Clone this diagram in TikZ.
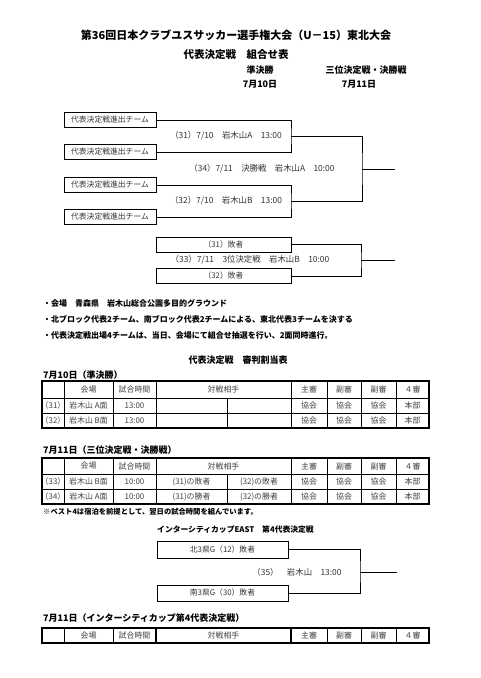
\documentclass[tikz,border=0pt]{standalone}
\usepackage{fontspec}
\setmainfont{Noto Sans CJK JP}
\usepackage{tikz}

\begin{document}
\begin{tikzpicture}[x=1pt,y=-1pt]
  \tikzset{
    team/.style={draw,line width=.8pt,minimum width=92pt,minimum height=15pt,
      inner sep=0pt,font=\fontsize{7.8}{8}\selectfont,text=black!80},
    loser/.style={team,minimum width=135pt},
    wire/.style={line width=.8pt},
    match/.style={font=\fontsize{8.4}{9}\selectfont,text=black!80},
    head/.style={font=\fontsize{9}{10}\selectfont\bfseries},
    note/.style={anchor=west,inner sep=0pt,font=\fontsize{8}{9}\selectfont\bfseries},
    cell/.style={inner sep=0pt,font=\fontsize{7.9}{8}\selectfont,text=black!75},
    tblframe/.style={line width=1.2pt},
    tblrule/.style={line width=.6pt}
  }
  \useasboundingbox (0,0) rectangle (480,678);
  \node[font=\fontsize{11}{12}\selectfont\bfseries] (title) at (236,35)
    {第36回日本クラブユスサッカー選手権大会（U－15）東北大会};
  \node[font=\fontsize{10.5}{11}\selectfont\bfseries] (subtitle) at (236,55) {代表決定戦　組合せ表};
  \node[head] (day1) at (260,70) {準決勝};
  \node[head] (date1) at (260,84) {7月10日};
  \node[head] (day2) at (366,70) {三位決定戦・決勝戦};
  \node[head] (date2) at (359,84) {7月11日};

  \node[team] (t1) at (110,120) {代表決定戦進出チーム};
  \node[team] (t2) at (110,152) {代表決定戦進出チーム};
  \node[team] (t3) at (110,185) {代表決定戦進出チーム};
  \node[team] (t4) at (110,217) {代表決定戦進出チーム};
  \coordinate (w31) at (291,136);
  \coordinate (w32) at (291,201);
  \coordinate (f34) at (362,169);
  \coordinate (e34) at (395,169);
  \draw[wire] (t1.east) -| (w31) |- (t2.east);
  \draw[wire] (t3.east) -| (w32) |- (t4.east);
  \draw[wire] (w31) -| (f34) |- (w32);
  \draw[wire] (f34) -- (e34);
  \node[match] (m31) at (226,136) {（31）7/10　岩木山A　13:00};
  \node[match] (m32) at (226,201) {（32）7/10　岩木山B　13:00};
  \node[match] (m34) at (262,169) {（34）7/11　決勝戦　岩木山A　10:00};

  \node[loser] (l31) at (223.5,244.5) {（31）敗者};
  \node[loser] (l32) at (223.5,276) {（32）敗者};
  \coordinate (f33) at (361,260);
  \coordinate (e33) at (395,260);
  \draw[wire] (l31.east) -| (f33) |- (l32.east);
  \draw[wire] (f33) -- (e33);
  \node[match] (m33) at (250,260) {（33）7/11　3位決定戦　岩木山B　10:00};

  \node[note] (n1) at (43,303) {・会場　青森県　岩木山総合公園多目的グラウンド};
  \node[note] (n2) at (43,319) {・北ブロック代表2チーム、南ブロック代表2チームによる、東北代表3チームを決する};
  \node[note] (n3) at (43,335) {・代表決定戦出場4チームは、当日、会場にて組合せ抽選を行い、2面同時進行。};

  \node[head] (referees) at (238,360) {代表決定戦　審判割当表};
  \node[note,font=\fontsize{9}{10}\selectfont\bfseries] (cap1) at (43,375) {7月10日（準決勝）};
  \draw[tblframe] (42,381) rectangle (429,428);
  \foreach \x in {64,113,156,291,327,361,396} \draw[tblrule] (\x,381) -- (\x,428);
  \draw[tblrule] (227,398) -- (227,428);
  \foreach \y in {398,413} \draw[tblrule] (42,\y) -- (429,\y);
  \foreach \x/\t [count=\i] in {88.5/会場,134.5/試合時間,223.5/対戦相手,309/主審,344/副審,378.5/副審,412.5/４審}
    \node[cell] (ha\i) at (\x,389.5) {\t};
  \foreach \y/\n/\v/\s [count=\j] in {405.5/（31）/岩木山 A面/13:00,420.5/（32）/岩木山 B面/13:00} {
    \node[cell] (na\j) at (53,\y) {\n};
    \node[cell] (va\j) at (88.5,\y) {\v};
    \node[cell] (sa\j) at (134.5,\y) {\s};
    \foreach \x/\r [count=\k] in {309/協会,344/協会,378.5/協会,412.5/本部}
      \node[cell] (ra\j\k) at (\x,\y) {\r};
  }

  \node[note,font=\fontsize{9}{10}\selectfont\bfseries] (cap2) at (43,450) {7月11日（三位決定戦・決勝戦）};
  \draw[tblframe] (42,458) rectangle (429,504);
  \foreach \x in {64,113,156,291,327,361,396} \draw[tblrule] (\x,458) -- (\x,504);
  \draw[tblrule] (227,474) -- (227,504);
  \foreach \y in {474,489} \draw[tblrule] (42,\y) -- (429,\y);
  \foreach \x/\t [count=\i] in {88.5/会場,134.5/試合時間,223.5/対戦相手,309/主審,344/副審,378.5/副審,412.5/４審}
    \node[cell] (hb\i) at (\x,466) {\t};
  \foreach \y/\n/\v/\a/\b [count=\j] in {481.5/（33）/岩木山 B面/(31)の敗者/(32)の敗者,496.5/（34）/岩木山 A面/(31)の勝者/(32)の勝者} {
    \node[cell] (nb\j) at (53,\y) {\n};
    \node[cell] (vb\j) at (88.5,\y) {\v};
    \node[cell] (sb\j) at (134.5,\y) {10:00};
    \node[cell] (pb\j) at (191.5,\y) {\a};
    \node[cell] (qb\j) at (259,\y) {\b};
    \foreach \x/\r [count=\k] in {309/協会,344/協会,378.5/協会,412.5/本部}
      \node[cell] (rb\j\k) at (\x,\y) {\r};
  }
  \node[note,font=\fontsize{7.3}{8}\selectfont\bfseries] (remark) at (43,512)
    {※ベスト4は宿泊を前提として、翌日の試合時間を組んでいます。};

  \node[note,font=\fontsize{7.8}{8}\selectfont\bfseries] (cup) at (157,530) {インターシティカップEAST　第4代表決定戦};
  \node[team,minimum width=131pt,minimum height=17pt] (g12) at (222.5,549.5) {北3県G（12）敗者};
  \node[team,minimum width=131pt,minimum height=16pt] (g30) at (222.5,593) {南3県G（30）敗者};
  \coordinate (f35) at (360,572);
  \coordinate (e35) at (397,572);
  \draw[wire] (g12.east) -| (f35) |- (g30.east);
  \draw[wire] (f35) -- (e35);
  \node[match] (m35) at (297,572) {（35）　岩木山　13:00};

  \node[note,font=\fontsize{9}{10}\selectfont\bfseries] (cap3) at (43,618) {7月11日（インターシティカップ第4代表決定戦）};
  \draw[tblframe] (42,628) rectangle (429,643);
  \foreach \x in {64,113,327,361,396} \draw[tblrule] (\x,628) -- (\x,643);
  \draw[tblframe] (156,628) rectangle (291,643);
  \foreach \x/\t [count=\i] in {88.5/会場,134.5/試合時間,223.5/対戦相手,309/主審,344/副審,378.5/副審,412.5/４審}
    \node[cell] (hc\i) at (\x,635.5) {\t};
\end{tikzpicture}
\end{document}
